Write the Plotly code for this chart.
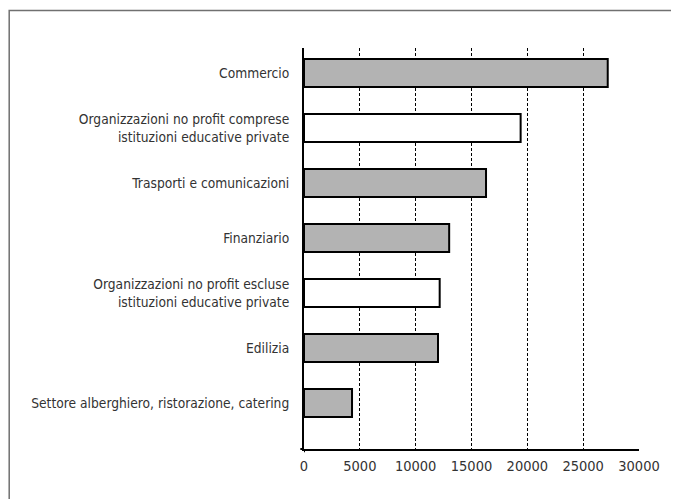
import plotly.graph_objects as go

categories = [
    "Commercio",
    "Organizzazioni no profit comprese<br>istituzioni educative private",
    "Trasporti e comunicazioni",
    "Finanziario",
    "Organizzazioni no profit escluse<br>istituzioni educative private",
    "Edilizia",
    "Settore alberghiero, ristorazione, catering",
]
values = [27200, 19400, 16300, 13000, 12150, 12000, 4300]
fills = ["#b3b3b3", "#ffffff", "#b3b3b3", "#b3b3b3", "#ffffff", "#b3b3b3", "#b3b3b3"]
x_ticks = [0, 5000, 10000, 15000, 20000, 25000, 30000]

FONT = "DejaVu Sans Condensed, Liberation Sans Narrow, sans-serif"

fig = go.Figure()
fig.add_trace(go.Bar(
    x=values, y=categories, orientation="h",
    width=0.51,
    marker=dict(color=fills, line=dict(color="#000000", width=2)),
    hoverinfo="skip",
))

# page body has an 8px margin, so the figure is sized to fit 671x491
fig.update_layout(
    width=671, height=491,
    margin=dict(l=296, r=40, t=40, b=50, autoexpand=False),
    paper_bgcolor="white", plot_bgcolor="white",
    showlegend=False,
    font=dict(family=FONT, size=13.7, color="#333333"),
)
fig.update_xaxes(
    range=[0, 30000], tickvals=x_ticks, ticktext=[str(v) for v in x_ticks],
    tickfont=dict(size=14.5),
    showgrid=True, gridcolor="#000000", gridwidth=1, griddash="3px,2px",
    showline=True, linecolor="#000000", linewidth=2,
    ticks="outside", ticklen=3, tickcolor="rgba(0,0,0,0)",
    zeroline=False, fixedrange=True, automargin=False,
)
fig.update_yaxes(
    type="category", range=[6.836, -0.455],
    showgrid=False, showline=True, linecolor="#000000", linewidth=2,
    ticks="outside", ticklen=10, tickcolor="rgba(0,0,0,0)",
    zeroline=False, fixedrange=True, automargin=False,
)
# border frame (top and left visible)
fig.add_shape(type="rect", xref="paper", yref="paper",
              x0=-0.88, x1=1.3, y0=-0.3, y1=1.0935,
              line=dict(color="#707070", width=1.5), layer="below")
# small cross at origin
fig.add_shape(type="line", xref="x", yref="paper", x0=0, x1=0, y0=0, y1=-0.008,
              line=dict(color="#000000", width=2))
fig.add_shape(type="line", xref="paper", yref="paper", x0=-0.011, x1=0, y0=0, y1=0,
              line=dict(color="#000000", width=2))

fig.write_html("out.html")
